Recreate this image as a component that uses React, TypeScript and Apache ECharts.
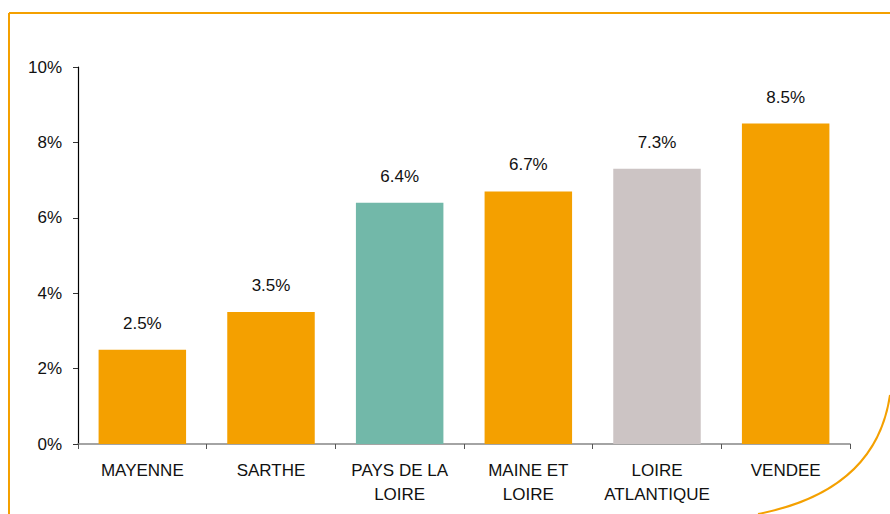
import React, { useEffect, useRef } from "react";
import * as echarts from "echarts";

const categories = ["MAYENNE", "SARTHE", "PAYS DE LA\nLOIRE", "MAINE ET\nLOIRE", "LOIRE\nATLANTIQUE", "VENDEE"];
const values = [2.5, 3.5, 6.4, 6.7, 7.3, 8.5];
const barColors = ["#F4A000", "#F4A000", "#72B8A9", "#F4A000", "#CCC4C4", "#F4A000"];
const yTicks = [0, 2, 4, 6, 8, 10];

export default function App() {
  const ref = useRef<HTMLDivElement>(null);
  useEffect(() => {
    if (!ref.current) return;
    const chart = echarts.init(ref.current, undefined, { renderer: "svg" });
    const font = "'Liberation Sans', Arial, sans-serif";
    chart.setOption({
      animation: false,
      backgroundColor: "#ffffff",
      grid: { left: 78, right: 40, top: 67, bottom: 70, containLabel: false },
      xAxis: {
        type: "category",
        data: categories,
        axisLine: { lineStyle: { color: "#868686", width: 1.5 } },
        axisTick: { show: true, length: 5, lineStyle: { color: "#555" } },
        axisLabel: { color: "#111", fontFamily: font, fontSize: 17, margin: 14, lineHeight: 24, interval: 0 },
      },
      yAxis: {
        type: "value",
        min: 0,
        max: yTicks[yTicks.length - 1],
        interval: 2,
        axisLine: { show: true, lineStyle: { color: "#000", width: 1.2 } },
        axisTick: { show: true, length: 5, lineStyle: { color: "#333" } },
        splitLine: { show: false },
        axisLabel: { color: "#111", fontFamily: font, fontSize: 17, margin: 16, formatter: (v: number) => v + "%" },
      },
      series: [
        {
          type: "bar",
          barCategoryGap: "32%",
          data: values.map((v, i) => ({ value: v, itemStyle: { color: barColors[i] } })),
          label: {
            show: true,
            position: "top",
            distance: 18,
            color: "#111",
            fontFamily: font,
            fontSize: 17,
            formatter: (p: any) => p.value.toFixed(1) + "%",
          },
        },
      ],
      graphic: [
        { type: "line", shape: { x1: 9, y1: 13, x2: 890, y2: 13 }, style: { stroke: "#F4A000", lineWidth: 2 } },
        { type: "line", shape: { x1: 9, y1: 13, x2: 9, y2: 514 }, style: { stroke: "#F4A000", lineWidth: 2 } },
        {
          type: "bezierCurve",
          shape: { x1: 758, y1: 514, cpx1: 876, cpy1: 491, x2: 890, y2: 395 },
          style: { stroke: "#F4A000", lineWidth: 2, fill: "none" },
        },
      ],
    });
    return () => chart.dispose();
  }, []);
  return <div ref={ref} style={{ width: 890, height: 514, position: "absolute", left: 0, top: 0 }} />;
}
